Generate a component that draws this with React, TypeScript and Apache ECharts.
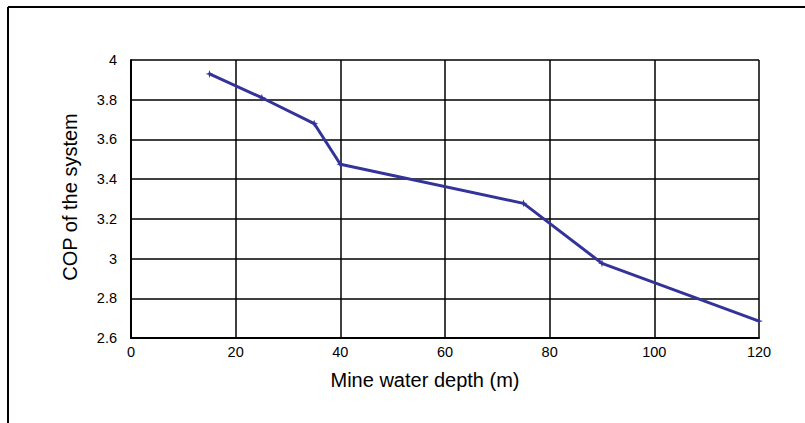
import React, { useEffect, useRef } from "react";
import * as echarts from "echarts";

const depths = [15, 25, 35, 40, 75, 90, 120];
const cop = [3.93, 3.81, 3.68, 3.475, 3.278, 2.976, 2.685];
const xTitle = "Mine water depth (m)";
const yTitle = "COP of the system";

export default function App() {
  const ref = useRef<HTMLDivElement>(null);
  useEffect(() => {
    const chart = echarts.init(ref.current!, null, { renderer: "svg" });
    const font = "'Liberation Sans', Arial, sans-serif";
    chart.setOption({
      animation: false,
      backgroundColor: "#ffffff",
      grid: { left: 131, top: 60, right: 46, bottom: 85 },
      xAxis: {
        type: "value",
        min: 0,
        max: 120,
        interval: 20,
        axisLine: { show: true, lineStyle: { color: "#000", width: 2 } },
        axisTick: { show: false },
        splitLine: { show: true, lineStyle: { color: "#000", width: 1.5 } },
        axisLabel: { color: "#000", fontSize: 14.5, fontFamily: font, margin: 6 },
      },
      yAxis: {
        type: "value",
        min: 2.6,
        max: 4,
        interval: 0.2,
        axisLine: { show: true, lineStyle: { color: "#000", width: 2 } },
        axisTick: { show: false },
        splitLine: { show: true, lineStyle: { color: "#000", width: 1.5 } },
        axisLabel: {
          color: "#000",
          fontSize: 14.5,
          fontFamily: font,
          margin: 14,
          formatter: (v: number) => String(parseFloat(v.toFixed(1))),
        },
      },
      series: [
        {
          type: "line",
          data: depths.map((d, i) => [d, cop[i]]),
          lineStyle: { color: "#333399", width: 3 },
          itemStyle: { color: "#333399" },
          symbol: "path://M0,-5L1.2,-1.2L5,0L1.2,1.2L0,5L-1.2,1.2L-5,0L-1.2,-1.2Z",
          symbolSize: 8,
          showSymbol: true,
        },
      ],
      graphic: [
        { type: "line", shape: { x1: 8, y1: 7, x2: 805, y2: 7 }, style: { stroke: "#000", lineWidth: 2 } },
        { type: "line", shape: { x1: 8, y1: 7, x2: 8, y2: 423 }, style: { stroke: "#000", lineWidth: 2 } },
        {
          type: "text",
          x: 425,
          y: 380,
          style: { text: xTitle, fill: "#000", fontSize: 20, fontFamily: font, align: "center", verticalAlign: "middle" },
        },
        {
          type: "text",
          x: 70,
          y: 197,
          rotation: Math.PI / 2,
          style: { text: yTitle, fill: "#000", fontSize: 20, fontFamily: font, align: "center", verticalAlign: "middle" },
        },
      ],
    });
    return () => chart.dispose();
  }, []);
  return (
    <div
      ref={ref}
      style={{ position: "fixed", left: 0, top: 0, width: 805, height: 423 }}
    />
  );
}
